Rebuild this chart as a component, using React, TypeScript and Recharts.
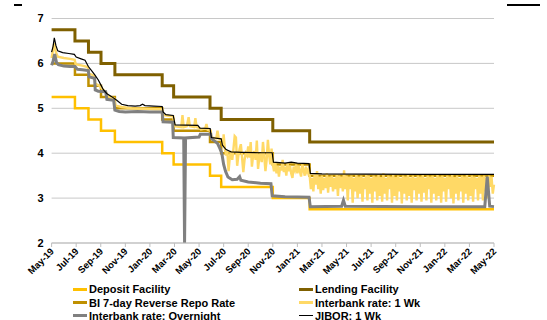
import React from 'react';
import { LineChart, Line, XAxis, YAxis, CartesianGrid } from 'recharts';

// x = months after the May-19 tick
const monthTicks = [0, 2, 4, 6, 8, 10, 12, 14, 16, 18, 20, 22, 24, 26, 28, 30, 32, 34, 36];
const monthLabels = [
  'May-19', 'Jul-19', 'Sep-19', 'Nov-19', 'Jan-20', 'Mar-20', 'May-20', 'Jul-20', 'Sep-20', 'Nov-20',
  'Jan-21', 'Mar-21', 'May-21', 'Jul-21', 'Sep-21', 'Nov-21', 'Jan-22', 'Mar-22', 'May-22',
];
const yTicks = [2, 3, 4, 5, 6, 7];

// policy rate decisions
const policyT = [0, 1.9, 3.0, 4.02, 5.15, 9.0, 9.93, 12.89, 13.8, 18.0, 21.0];
const depositRates = [5.25, 5.0, 4.75, 4.5, 4.25, 4.0, 3.75, 3.5, 3.25, 3.0, 2.75];
const repoRates = [6.0, 5.75, 5.5, 5.25, 5.0, 4.75, 4.5, 4.25, 4.0, 3.75, 3.5];
const lendingRates = [6.75, 6.5, 6.25, 6.0, 5.75, 5.5, 5.25, 5.0, 4.75, 4.5, 4.25];

const jiborT = [
  0, 0.12, 0.22, 0.35, 0.5, 0.9, 1.4, 1.85, 2.0, 2.4, 2.72, 2.99, 3.3, 3.53, 3.8, 4.05, 4.2, 4.48, 4.89,
  5.3, 5.7, 6.2, 6.8, 7.2, 7.4, 7.6, 8.3, 9.0, 9.07, 9.3, 9.9, 10.05, 11.9, 12.07, 12.9, 13.0, 13.8, 13.9,
  14.2, 14.6, 15.5, 17.0, 17.95, 18.05, 19.0, 19.5, 20.0, 20.95, 21.05, 22, 30, 36,
];
const jiborV = [
  6.25, 6.38, 6.57, 6.4, 6.28, 6.24, 6.22, 6.2, 6.14, 6.1, 6.07, 5.93, 5.82, 5.74, 5.63, 5.5, 5.42, 5.33, 5.26,
  5.18, 5.09, 5.06, 5.05, 5.06, 5.09, 5.06, 5.05, 5.04, 4.92, 4.86, 4.84, 4.63, 4.62, 4.56, 4.55, 4.35, 4.32, 4.18,
  4.08, 4.03, 4.02, 4.01, 4.01, 3.8, 3.78, 3.8, 3.78, 3.77, 3.55, 3.54, 3.53, 3.53,
];

const overnightT = [
  0, 0.12, 0.25, 0.4, 0.55, 1.0, 1.5, 1.9, 2.1, 2.5, 2.99, 3.05, 3.5, 3.55, 3.8, 4.4, 4.5, 5.05, 5.15, 5.5,
  6, 7, 8, 9.0, 9.07, 9.85, 9.9, 10.75, 10.82, 10.9, 12.0, 12.1, 12.95, 13.0, 13.5, 13.7, 13.85, 14.0, 14.15,
  14.35, 14.7, 15.1, 15.3, 15.4, 16, 17, 17.85, 17.95, 19, 20.95, 21.05, 23.6, 23.75, 23.9, 30, 35.25, 35.45,
  35.65, 36,
];
const overnightV = [
  5.96, 6.05, 6.21, 6.02, 5.97, 5.94, 5.93, 5.93, 5.87, 5.86, 5.84, 5.7, 5.67, 5.41, 5.38, 5.37, 5.2, 5.18, 4.96, 4.93,
  4.92, 4.93, 4.92, 4.92, 4.7, 4.69, 4.35, 4.34, 2.0, 4.34, 4.36, 4.42, 4.42, 4.33, 4.22, 4.1, 4.0, 3.75, 3.6,
  3.47, 3.41, 3.42, 3.48, 3.4, 3.36, 3.33, 3.32, 3.05, 3.03, 3.02, 2.81, 2.82, 2.95, 2.82, 2.81, 2.81, 3.48,
  2.82, 2.81,
];

// interbank 1 week, up to Jul-20
const ib1wT = [
  0, 0.12, 0.22, 0.35, 0.5, 1.0, 1.5, 1.88, 1.95, 2.5, 2.95, 3.02, 3.5, 3.55, 3.9, 4.05, 4.45, 4.55, 5.1,
  5.2, 5.7, 6.5, 7.5, 8.5, 9.0, 9.07, 9.5, 9.9, 10.0, 10.55, 10.65, 10.75, 11.0, 11.15, 11.25, 11.6, 11.7,
  11.8, 12.05, 12.15, 12.5, 12.6, 12.7, 12.95, 13.0, 13.4, 13.5, 13.6, 13.85, 13.95,
];
const ib1wV = [
  6.12, 6.3, 6.45, 6.25, 6.15, 6.12, 6.1, 6.08, 5.98, 5.95, 5.92, 5.78, 5.72, 5.55, 5.5, 5.45, 5.35, 5.27, 5.22,
  5.06, 5.03, 5.0, 4.99, 4.98, 4.98, 4.85, 4.83, 4.82, 4.6, 4.58, 4.85, 4.58, 4.6, 4.8, 4.6, 4.58, 4.78,
  4.58, 4.56, 4.53, 4.55, 4.65, 4.52, 4.5, 4.35, 4.33, 4.5, 4.33, 4.3, 4.15,
];
// interbank 1 week from t = 14.0, one reading every 0.1 month
const IB1W_DAILY_START = 14.0;
const IB1W_DAILY_STEP = 0.1;
const ib1wDaily = [
  4.42, 4.1, 3.95, 4.05, 3.6, 3.9, 4.05, 3.85, 4.1, 4.38,
  4.35, 3.72, 3.95, 4.1, 4.2, 3.9, 3.58, 3.85, 4.0, 3.95,
  4.15, 3.9, 4.25, 3.7, 3.95, 4.05, 3.85, 4.28, 3.65, 3.9,
  4.0, 3.8, 4.25, 3.95, 3.6, 3.85, 4.3, 3.95, 3.75, 4.1,
  3.75, 3.6, 3.8, 3.55, 3.72, 3.48, 3.7, 3.62, 3.85, 3.58,
  3.7, 3.5, 3.78, 3.6, 3.72, 3.55, 3.45, 3.7, 3.62, 3.75,
  3.55, 3.72, 3.6, 3.48, 3.75, 3.62, 3.5, 3.7, 3.58, 3.66,
  3.5, 3.2, 3.45, 3.15, 3.52, 3.3, 3.6, 3.2, 3.48, 3.1,
  3.5, 3.18, 3.45, 3.22, 3.55, 3.12, 3.48, 3.25, 3.5, 3.15,
  3.45, 3.2, 3.52, 3.05, 3.5, 3.22, 3.48, 3.15, 3.62, 3.2,
  3.5, 2.95, 3.48, 3.2, 3.5, 2.9, 3.45, 3.15, 3.52, 3.0,
  3.48, 3.1, 3.5, 2.92, 3.45, 3.2, 3.52, 2.95, 3.5, 3.1,
  3.45, 2.9, 3.5, 3.15, 3.48, 2.95, 3.52, 3.05, 3.47, 2.92,
  3.55, 3.1, 3.45, 2.95, 3.5, 3.2, 3.48, 2.9, 3.52, 3.05,
  3.47, 2.95, 3.5, 3.15, 3.45, 2.88, 3.5, 3.1, 3.48, 2.95,
  3.52, 3.05, 3.46, 2.9, 3.5, 3.18, 3.45, 2.95, 3.5, 3.1,
  3.48, 2.92, 3.52, 3.12, 3.45, 2.95, 3.5, 3.2, 3.48, 2.9,
  3.5, 3.1, 3.45, 2.95, 3.52, 3.05, 3.48, 2.9, 3.5, 3.15,
  3.45, 2.92, 3.5, 3.2, 3.48, 3.0, 3.52, 2.88, 3.47, 3.1,
  3.5, 2.95, 3.45, 3.15, 3.5, 2.9, 3.48, 3.1, 3.52, 2.95,
  3.46, 3.05, 3.5, 2.92, 3.48, 3.2, 3.45, 2.95, 3.5, 3.1,
  3.48, 2.95, 3.5, 3.15, 3.45, 3.0, 3.5, 3.25, 3.48, 3.1,
  3.3,
];

const FONT = '"Liberation Sans", Arial, Helvetica, sans-serif';

const steps = (rates: number[]) => [
  ...policyT.map((t, i) => ({ t, v: rates[i] })),
  { t: 36, v: rates[rates.length - 1] },
];
const pairs = (ts: number[], vs: number[]) => ts.map((t, i) => ({ t, v: vs[i] }));

const depositData = steps(depositRates);
const repoData = steps(repoRates);
const lendingData = steps(lendingRates);
const jiborData = pairs(jiborT, jiborV);
const overnightData = pairs(overnightT, overnightV);
const ib1wData = [
  ...pairs(ib1wT, ib1wV),
  ...ib1wDaily.map((v, i) => ({ t: Math.round((IB1W_DAILY_START + i * IB1W_DAILY_STEP) * 10) / 10, v })),
];

const legendItems = [
  { name: 'Deposit Facility', color: '#FFC000', h: 3, left: 73, top: 289 },
  { name: 'Lending Facility', color: '#7F6000', h: 3, left: 299, top: 289 },
  { name: 'BI 7-day Reverse Repo Rate', color: '#BF9000', h: 3, left: 73, top: 302.5 },
  { name: 'Interbank rate: 1 Wk', color: '#FFD966', h: 3, left: 299, top: 302.5 },
  { name: 'Interbank rate: Overnight', color: '#808080', h: 3, left: 73, top: 315.5 },
  { name: 'JIBOR: 1 Wk', color: '#000000', h: 1.5, left: 299, top: 315.5 },
];

// eslint-disable-next-line @typescript-eslint/no-explicit-any
function MonthTick({ x, y, payload }: any) {
  const idx = monthTicks.indexOf(payload.value);
  return (
    <g transform={`translate(${x + 3},${y + 3})`}>
      <text transform="rotate(-45)" textAnchor="end" fontSize={9.5} fontWeight="bold" fill="#000" fontFamily={FONT}>
        {monthLabels[idx]}
      </text>
    </g>
  );
}

export default function App() {
  return (
    <div style={{ position: 'absolute', left: 0, top: 0, width: 547, height: 320, background: '#fff', fontFamily: FONT, overflow: 'hidden' }}>
      <div style={{ position: 'absolute', left: 14, top: 4, width: 8, height: 2, background: '#000' }} />
      <div style={{ position: 'absolute', left: 507, top: 4, width: 33, height: 2, background: '#000' }} />
      <LineChart width={547} height={320} margin={{ top: 18.5, right: 53, left: 11.6, bottom: 0 }}>
        <CartesianGrid vertical={false} stroke="#C8C8C8" strokeWidth={1} />
        <XAxis
          type="number"
          dataKey="t"
          domain={[0, 36]}
          ticks={monthTicks}
          interval={0}
          height={77}
          tick={<MonthTick />}
          tickSize={4}
          stroke="#BFBFBF"
          allowDuplicatedCategory={false}
        />
        <YAxis
          domain={[2, 7]}
          ticks={yTicks}
          width={40}
          axisLine={false}
          tickLine={false}
          tickMargin={2}
          tick={{ fontSize: 11, fontWeight: 'bold', fill: '#000', fontFamily: FONT }}
        />
        <Line data={depositData} dataKey="v" type="stepAfter" stroke="#FFC000" strokeWidth={2.5} dot={false} isAnimationActive={false} />
        <Line data={lendingData} dataKey="v" type="stepAfter" stroke="#7F6000" strokeWidth={3} dot={false} isAnimationActive={false} />
        <Line data={repoData} dataKey="v" type="stepAfter" stroke="#BF9000" strokeWidth={2.5} dot={false} isAnimationActive={false} />
        <Line data={ib1wData} dataKey="v" type="linear" stroke="#FFD966" strokeWidth={2.4} dot={false} isAnimationActive={false} />
        <Line data={overnightData} dataKey="v" type="linear" stroke="#808080" strokeWidth={3} dot={false} isAnimationActive={false} />
        <Line data={jiborData} dataKey="v" type="linear" stroke="#000000" strokeWidth={1.2} dot={false} isAnimationActive={false} />
      </LineChart>
      {legendItems.map((it) => (
        <div
          key={it.name}
          style={{
            position: 'absolute',
            left: it.left,
            top: it.top - 7,
            height: 14,
            display: 'flex',
            alignItems: 'center',
            fontSize: 11,
            fontWeight: 'bold',
            color: '#000',
            whiteSpace: 'nowrap',
          }}
        >
          <span style={{ display: 'inline-block', width: 14, height: it.h, background: it.color, marginRight: 2 }} />
          {it.name}
        </div>
      ))}
    </div>
  );
}
